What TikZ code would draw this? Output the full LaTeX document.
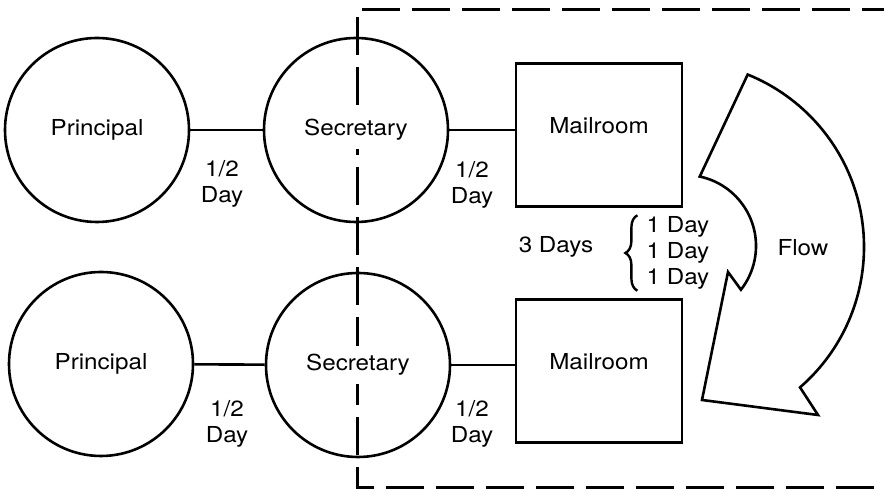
\documentclass[tikz,border=0pt]{standalone}
\usepackage{fontspec}
\setmainfont{TeX Gyre Heros}[FakeStretch=1.1]
\usetikzlibrary{calc, decorations.pathreplacing}

\begin{document}
\begin{tikzpicture}[x=0.5pt,y=0.5pt,line width=1.3pt,
  font=\fontsize{11}{13}\selectfont,
  person/.style={circle,draw,minimum size=92pt,inner sep=0pt},
  room/.style={rectangle,draw,minimum width=83pt,minimum height=71.5pt,text height=8pt,text depth=9pt},
  time/.style={align=center,inner sep=0pt},
  fence/.style={line width=1.5pt,dash pattern=on 19pt off 6pt}]
\useasboundingbox (0,0) rectangle (884,491);
\draw[fence](900,481)--(357,481)--(357,3)--(900,3);
% upper chain
\node[person](P1) at (97,361){Principal};
\node[person,label={[name=S1t,fill=white,inner sep=4pt]center:Secretary}](S1) at (356,361){};
\node[room](M1) at (599,356){Mailroom};
\draw(P1)--(S1);
\draw(S1)--(S1-|M1.west);
\node[time](T1) at (222,307){1/2\\Day};
\node[time](T2) at (472,306){1/2\\Day};
% lower chain
\node[person](P2) at (101,127){Principal};
\node[person,label={[name=S2t,fill=white,inner sep=4pt]center:Secretary}](S2) at (358,126){};
\node[room](M2) at (599,120){Mailroom};
\draw(P2)--(S2);
\draw(S2)--(S2-|M2.west);
\node[time](T3) at (227,67){1/2\\Day};
\node[time](T4) at (472,67){1/2\\Day};
% mailroom to mailroom
\node(D3) at (556,244){3 Days};
\node[time,align=left](D1) at (678,238){1 Day\\1 Day\\1 Day};
\draw[line width=1.2pt,decorate,decoration={brace,amplitude=6pt}]([xshift=-4pt]D1.south west)--([xshift=-4pt]D1.north west);
\coordinate(oc) at (678,244);
\coordinate(ic) at (685,245);
\draw($(ic)+(78:71)$) arc[start angle=78,end angle=-38,radius=71]--(728,219)--(702,91)--(818,76)--($(oc)+(-49:186)$) arc[start angle=-49,end angle=68,radius=186]--cycle;
\node(F) at (803,243){Flow};
\end{tikzpicture}
\end{document}
